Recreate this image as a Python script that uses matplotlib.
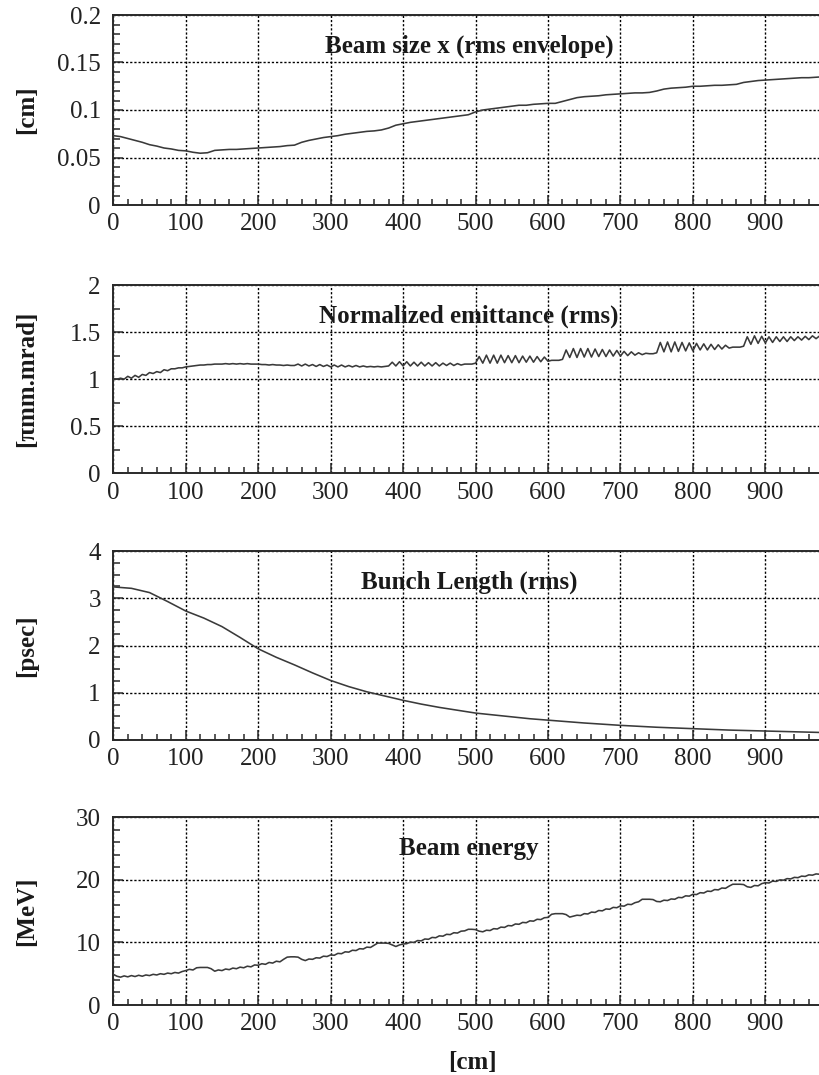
import numpy as np
import matplotlib
matplotlib.use("Agg")
import matplotlib.pyplot as plt
from matplotlib.ticker import MultipleLocator, FuncFormatter

plt.rcParams['font.family'] = ['Liberation Serif', 'DejaVu Serif']

# ---------------- data ----------------
# Beam size x (rms envelope) [cm], z every 10 cm
z_size = np.arange(0, 1001, 10)
beam_size = [
    0.073, 0.072, 0.070, 0.068, 0.066, 0.0635, 0.062, 0.060, 0.059, 0.0575,
    0.057, 0.0555, 0.0545, 0.055, 0.0575, 0.058, 0.0585, 0.0585, 0.059, 0.0595,
    0.060, 0.0605, 0.061, 0.0615, 0.0625, 0.063, 0.066, 0.068, 0.0695, 0.071,
    0.072, 0.073, 0.0745, 0.0755, 0.0765, 0.0775, 0.078, 0.079, 0.081, 0.084,
    0.0855, 0.087, 0.088, 0.089, 0.090, 0.091, 0.092, 0.093, 0.094, 0.095,
    0.098, 0.100, 0.101, 0.102, 0.103, 0.104, 0.105, 0.105, 0.106, 0.1065,
    0.107, 0.107, 0.109, 0.111, 0.113, 0.114, 0.1145, 0.115, 0.116, 0.1165,
    0.117, 0.1175, 0.118, 0.118, 0.1185, 0.120, 0.122, 0.123, 0.1235, 0.124,
    0.125, 0.125, 0.1255, 0.126, 0.126, 0.1265, 0.127, 0.129, 0.130, 0.131,
    0.1315, 0.132, 0.1325, 0.133, 0.1335, 0.134, 0.134, 0.1345, 0.135, 0.1355,
    0.136,
]

# Normalized emittance (rms) [pi mm mrad], z every 5 cm
z_emit = np.arange(0, 1001, 5)
emittance = [
    1.00, 1.00, 1.01, 1.00, 1.03, 1.01, 1.04, 1.02, 1.05, 1.04, 1.07, 1.06, 1.08, 1.07, 1.10, 1.09, 1.11, 1.11, 1.12, 1.12,
    1.13, 1.135, 1.14, 1.145, 1.15, 1.15, 1.155, 1.155, 1.16, 1.16, 1.16, 1.165, 1.16, 1.165, 1.16, 1.165, 1.16, 1.165, 1.16, 1.16,
    1.16, 1.155, 1.155, 1.15, 1.155, 1.15, 1.15, 1.145, 1.15, 1.145, 1.145, 1.16, 1.14, 1.16, 1.14, 1.155, 1.135, 1.155, 1.135, 1.15,
    1.13, 1.15, 1.13, 1.15, 1.13, 1.145, 1.13, 1.145, 1.13, 1.14, 1.13, 1.135, 1.13, 1.135, 1.13, 1.135, 1.14, 1.18, 1.14, 1.185,
    1.14, 1.185, 1.14, 1.18, 1.14, 1.18, 1.14, 1.175, 1.14, 1.175, 1.14, 1.17, 1.145, 1.17, 1.145, 1.165, 1.15, 1.16, 1.16, 1.16,
    1.17, 1.24, 1.17, 1.255, 1.17, 1.255, 1.17, 1.255, 1.175, 1.25, 1.175, 1.25, 1.175, 1.245, 1.18, 1.245, 1.18, 1.24, 1.185, 1.235,
    1.19, 1.20, 1.20, 1.20, 1.21, 1.31, 1.23, 1.325, 1.23, 1.325, 1.235, 1.325, 1.235, 1.32, 1.24, 1.315, 1.24, 1.31, 1.245, 1.305,
    1.245, 1.295, 1.25, 1.29, 1.255, 1.28, 1.26, 1.275, 1.27, 1.27, 1.28, 1.39, 1.29, 1.395, 1.29, 1.395, 1.295, 1.39, 1.30, 1.385,
    1.30, 1.38, 1.31, 1.375, 1.31, 1.37, 1.315, 1.365, 1.32, 1.36, 1.33, 1.34, 1.34, 1.34, 1.35, 1.45, 1.37, 1.46, 1.38, 1.455,
    1.385, 1.45, 1.39, 1.45, 1.40, 1.45, 1.40, 1.45, 1.41, 1.45, 1.415, 1.455, 1.42, 1.46, 1.43, 1.46, 1.44, 1.465, 1.45, 1.47,
    1.46,
]

# Bunch length (rms) [psec], z every 25 cm
z_bunch = np.arange(0, 1001, 25)
bunch_length = [
    3.24, 3.21, 3.12, 2.93, 2.73, 2.58, 2.40, 2.17, 1.93, 1.75,
    1.59, 1.42, 1.26, 1.13, 1.02, 0.93, 0.84, 0.76, 0.69, 0.63,
    0.57, 0.53, 0.49, 0.45, 0.42, 0.39, 0.36, 0.335, 0.31, 0.29,
    0.27, 0.255, 0.24, 0.225, 0.21, 0.20, 0.19, 0.18, 0.17, 0.16,
    0.155,
]

# Beam energy [MeV], z every 5 cm
z_energy = np.arange(0, 1001, 5)
beam_energy = [
    4.9, 4.6, 4.45, 4.65, 4.5, 4.7, 4.55, 4.75, 4.6, 4.8, 4.7, 4.9, 4.8, 5.0, 4.9, 5.1, 5.0, 5.2, 5.1, 5.35,
    5.5, 5.7, 5.6, 5.95, 6.0, 6.0, 6.0, 5.8, 5.4, 5.6, 5.5, 5.75, 5.65, 5.9, 5.8, 6.05, 5.95, 6.2, 6.1, 6.4,
    6.35, 6.6, 6.5, 6.8, 6.7, 7.0, 6.9, 7.3, 7.65, 7.7, 7.7, 7.65, 7.3, 7.1, 7.35, 7.3, 7.55, 7.5, 7.8, 7.75,
    8.0, 7.95, 8.25, 8.2, 8.5, 8.45, 8.75, 8.7, 9.0, 8.95, 9.25, 9.2, 9.55, 9.9, 9.9, 9.9, 9.85, 9.6, 9.35, 9.6,
    9.75, 9.8, 10.05, 10.0, 10.3, 10.25, 10.55, 10.5, 10.8, 10.75, 11.05, 11.0, 11.3, 11.25, 11.55, 11.5, 11.8, 11.85, 12.1, 12.1,
    12.05, 11.8, 11.7, 11.95, 11.9, 12.2, 12.15, 12.45, 12.4, 12.7, 12.65, 12.95, 12.9, 13.2, 13.15, 13.45, 13.4, 13.7, 13.65, 13.95,
    14.0, 14.5, 14.6, 14.6, 14.6, 14.45, 14.05, 14.2, 14.35, 14.3, 14.6, 14.55, 14.85, 14.8, 15.1, 15.05, 15.35, 15.3, 15.6, 15.55,
    15.85, 15.8, 16.1, 16.05, 16.35, 16.5, 16.9, 16.9, 16.9, 16.85, 16.55, 16.5, 16.75, 16.7, 16.95, 16.9, 17.2, 17.15, 17.45, 17.4,
    17.7, 17.65, 17.95, 17.9, 18.2, 18.15, 18.45, 18.4, 18.7, 18.65, 19.0, 19.3, 19.3, 19.3, 19.25, 18.9, 18.8, 19.1, 19.05, 19.4,
    19.55, 19.5, 19.8, 19.75, 20.0, 19.95, 20.2, 20.15, 20.4, 20.35, 20.6, 20.55, 20.8, 20.75, 20.95, 20.9, 21.1, 21.05, 21.25, 21.2,
    21.4,
]

titles = ["Beam size x (rms envelope)", "Normalized emittance (rms)",
          "Bunch Length (rms)", "Beam energy"]
ylabels = ["[cm]", "[\u03c0mm.mrad]", "[psec]", "[MeV]"]
ylims = [(0, 0.2), (0, 2), (0, 4), (0, 30)]
ymajor = [0.05, 0.5, 1, 10]
yminor = [0.01, 0.25, 0.25, 2]
xtick_vals = [0, 100, 200, 300, 400, 500, 600, 700, 800, 900]

series = [(z_size, beam_size), (z_emit, emittance),
          (z_bunch, bunch_length), (z_energy, beam_energy)]

# ---------------- figure ----------------
W, H = 819, 1075
fig = plt.figure(figsize=(W / 100, H / 100), dpi=100)

left_px = 113.3
width_px = 724.5
panels_px = [(15, 205), (285, 473.3), (551, 740), (817.3, 1005)]  # top, bottom

ink = '#2a2a2a'
for i, (top, bot) in enumerate(panels_px):
    ax = fig.add_axes([left_px / W, 1 - bot / H, width_px / W, (bot - top) / H])
    x, y = series[i]
    ax.plot(x, y, color='#3a3a3a', lw=1.15, zorder=3)
    ax.set_xlim(0, 1000)
    ax.set_ylim(*ylims[i])
    ax.set_xticks(xtick_vals)
    ax.xaxis.set_minor_locator(MultipleLocator(20))
    ax.yaxis.set_major_locator(MultipleLocator(ymajor[i]))
    ax.yaxis.set_minor_locator(MultipleLocator(yminor[i]))
    ax.yaxis.set_major_formatter(FuncFormatter(lambda v, p: '%g' % round(v, 4)))
    ax.grid(True, which='major', color='black', linestyle=(0, (1.6, 1.4)), lw=1.0)
    ax.tick_params(axis='both', which='both', direction='in', colors=ink,
                   labelsize=18, width=1.1)
    ax.tick_params(axis='x', which='major', length=7, pad=6)
    ax.tick_params(axis='x', which='minor', length=4)
    ax.tick_params(axis='y', which='major', length=7, pad=9)
    ax.tick_params(axis='y', which='minor', length=5)
    for s in ['left', 'bottom', 'top']:
        ax.spines[s].set_color(ink)
        ax.spines[s].set_linewidth(1.4)
    ax.spines['right'].set_visible(False)
    for lab in ax.get_xticklabels() + ax.get_yticklabels():
        lab.set_color('#222222')
    ax.text(0.491, 0.80, titles[i], transform=ax.transAxes, ha='center',
            va='baseline', fontsize=18, fontweight='bold', color='#1a1a1a', zorder=2)
    fig.text(27 / W, 1 - (top + bot) / 2 / H, ylabels[i], rotation=90,
             ha='center', va='center', fontsize=18, fontweight='bold', color='#1a1a1a')

fig.text(472 / W, 1 - 1062 / H, "[cm]", ha='center', va='center',
         fontsize=18, fontweight='bold', color='#1a1a1a')

fig.savefig("out.png", dpi=100)
